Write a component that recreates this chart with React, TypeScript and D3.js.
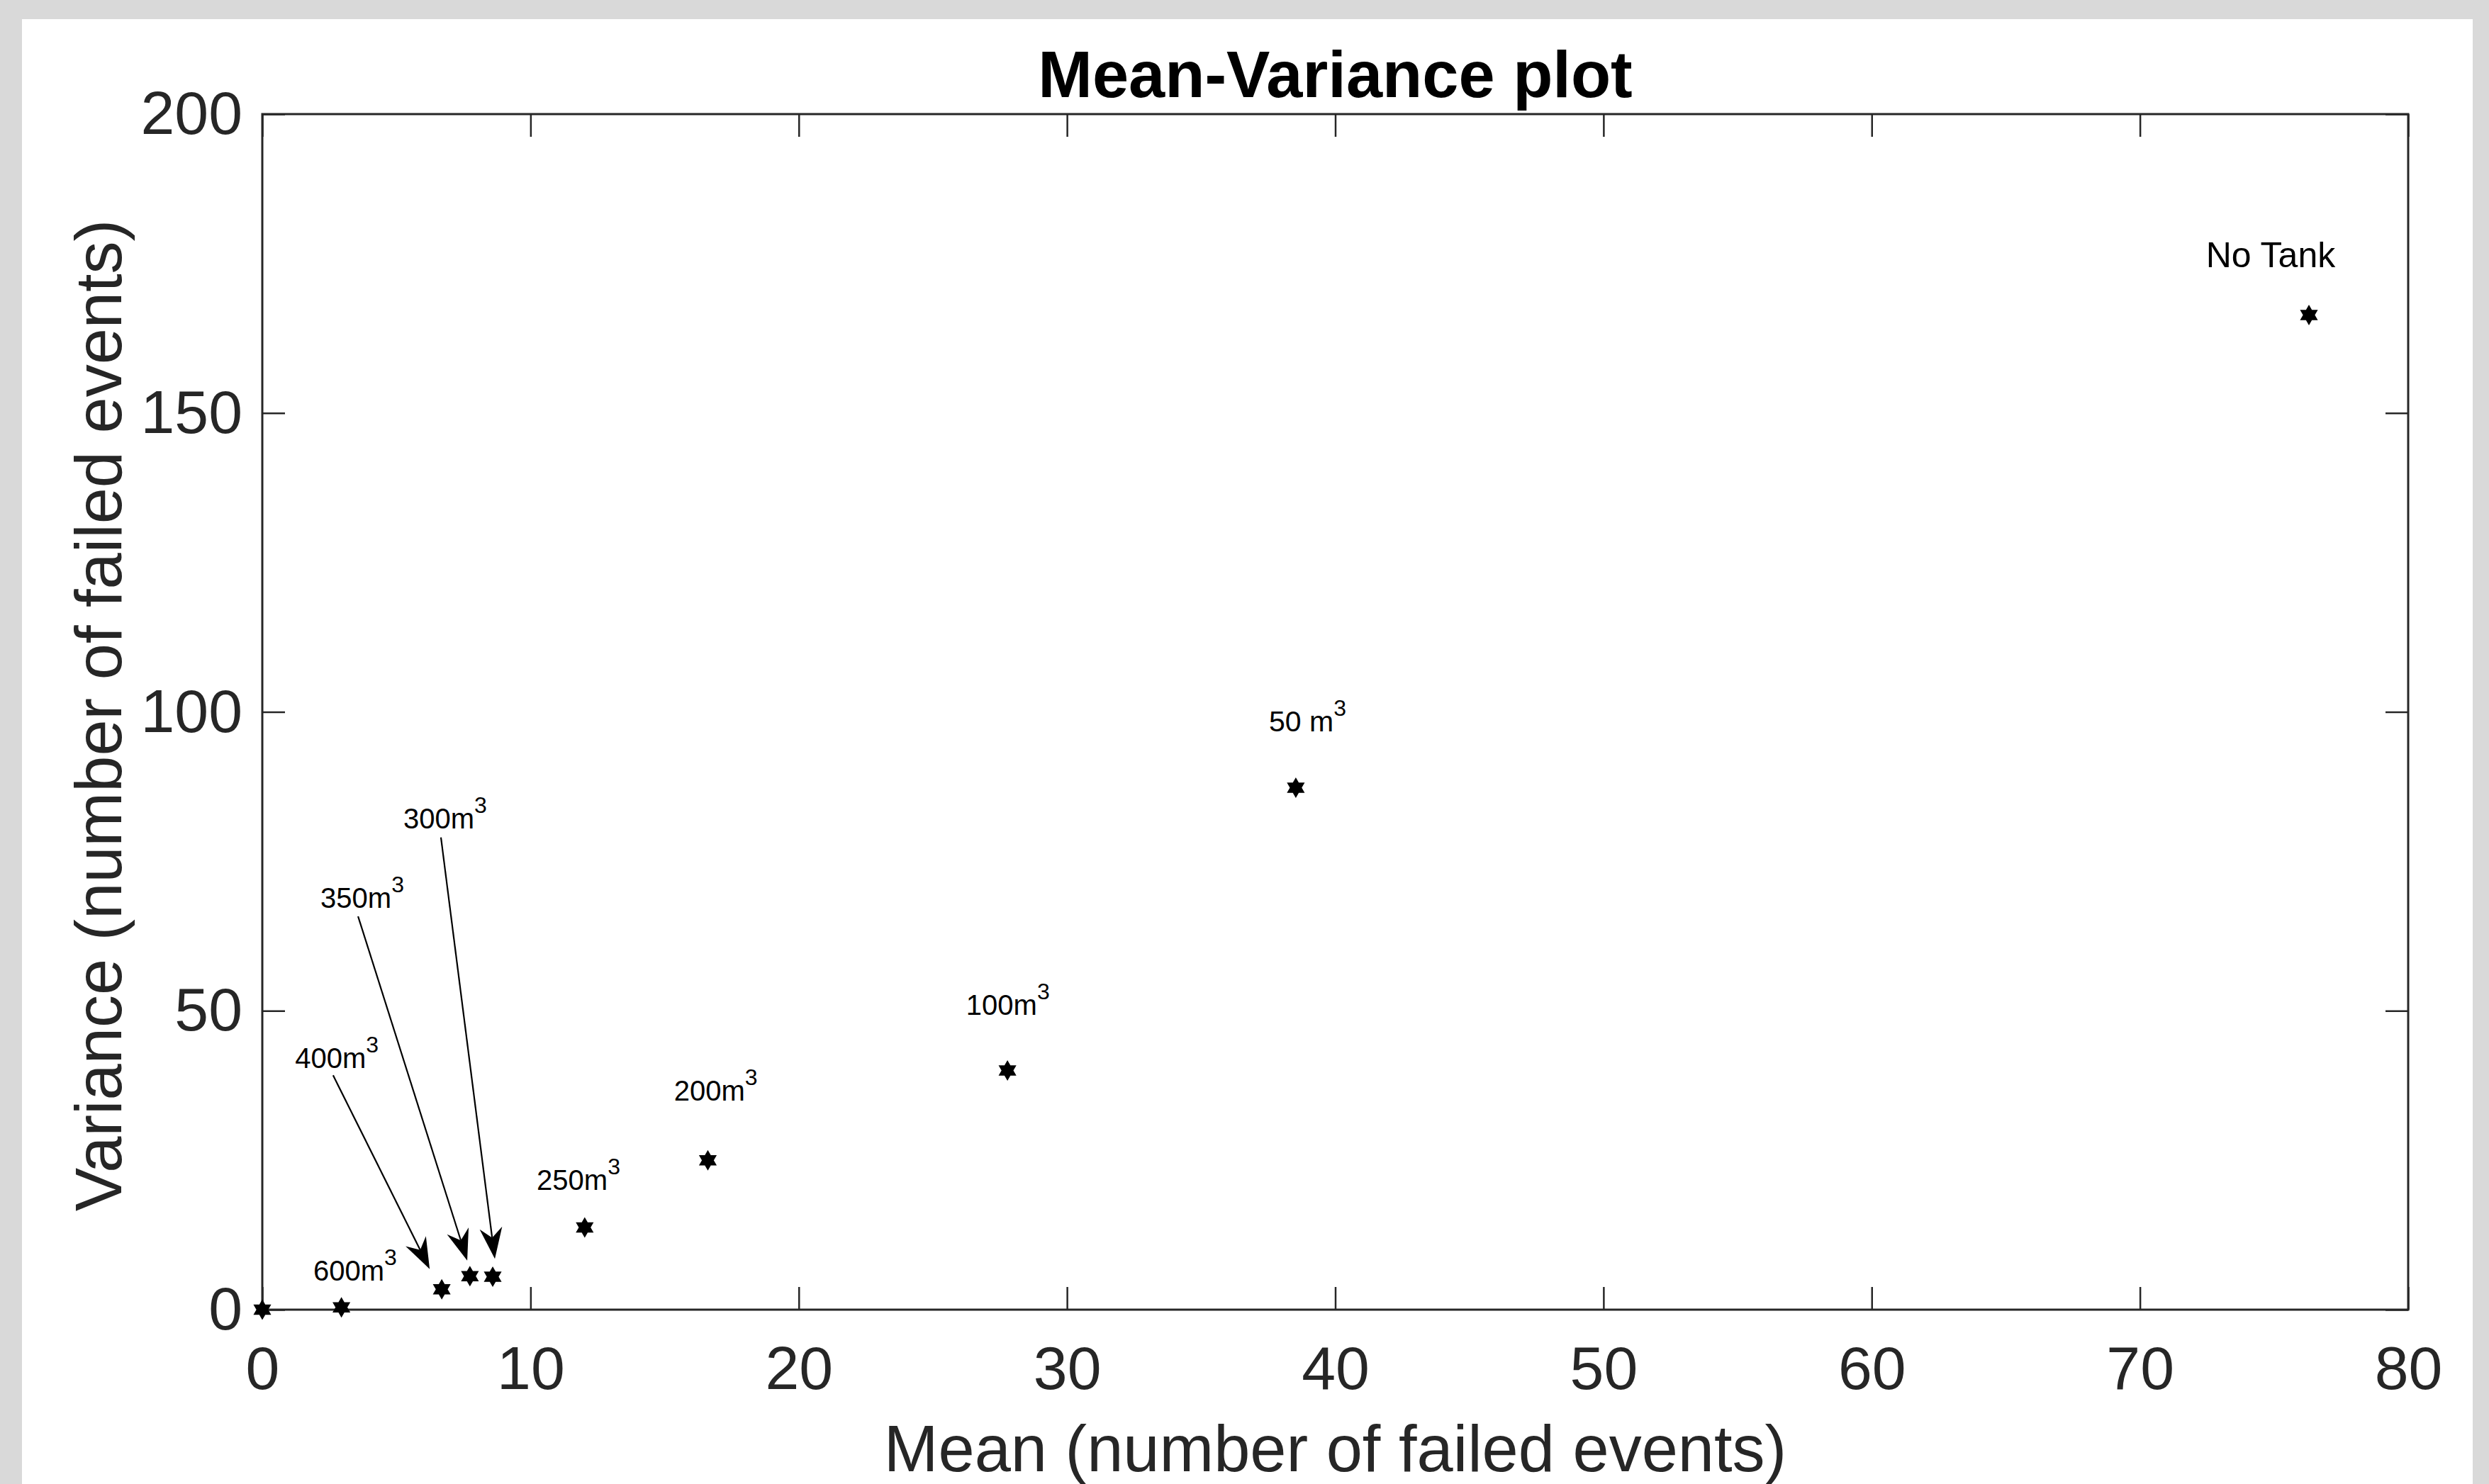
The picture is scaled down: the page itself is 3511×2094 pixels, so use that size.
import React, { useEffect, useRef } from 'react';
import * as d3 from 'd3';

const width = 3511;
const height = 2094;
const plot = { left: 370, right: 3397, top: 161, bottom: 1848 };
const font = '"Liberation Sans", Arial, Helvetica, sans-serif';
const axisColor = '#262626';

// scatter points (mean, variance)
const means = [0, 2.95, 6.69, 7.74, 8.59, 12.02, 16.61, 27.78, 38.53, 76.3];
const variances = [0, 0.4, 3.4, 5.6, 5.5, 13.75, 25.0, 40.0, 87.3, 166.4];

// text annotations, placed in data units (left / baseline)
const labelText = ['No Tank', '50 m', '100m', '200m', '250m', '300m', '350m', '400m', '600m'];
const labelSup = ['', '3', '3', '3', '3', '3', '3', '3', '3'];
const labelX = [72.46, 37.53, 26.24, 15.35, 10.23, 5.26, 2.17, 1.22, 1.9];
const labelY = [174.4, 96.7, 49.3, 35.0, 20.0, 80.5, 67.2, 40.4, 4.86];
const labelSize = [50, 41, 40, 40, 40, 40, 40, 40, 40];

// arrows from label to point
const arrowX0 = [6.66, 3.57, 2.64];
const arrowY0 = [79.0, 65.8, 39.2];
const arrowX1 = [8.67, 7.64, 6.24];
const arrowY1 = [8.5, 8.2, 6.8];

const xTicks = [0, 10, 20, 30, 40, 50, 60, 70, 80];
const yTicks = [0, 50, 100, 150, 200];

const x = d3.scaleLinear().domain([0, 80]).range([plot.left, plot.right]);
const y = d3.scaleLinear().domain([0, 200]).range([plot.bottom, plot.top]);

const hexagram = (r: number) => {
	const pts: [number, number][] = d3.range(12).map((i) => [i * Math.PI / 6, i % 2 === 0 ? r : r / Math.sqrt(3)]);
	return d3.lineRadial().curve(d3.curveLinearClosed)(pts) as string;
};
const starPath = hexagram(14.5);

// arrowhead with concave back, returns shaft end + head path
const arrow = (i: number) => {
	const x0 = x(arrowX0[i]);
	const y0 = y(arrowY0[i]);
	const x1 = x(arrowX1[i]);
	const y1 = y(arrowY1[i]);
	const a = Math.atan2(y1 - y0, x1 - x0);
	const len = 44;
	const half = 16;
	const notch = 30;
	const ux = Math.cos(a);
	const uy = Math.sin(a);
	const px = -uy;
	const py = ux;
	const bx = x1 - ux * len;
	const by = y1 - uy * len;
	const nx = x1 - ux * notch;
	const ny = y1 - uy * notch;
	const p = d3.path();
	p.moveTo(x1, y1);
	p.lineTo(bx + px * half, by + py * half);
	p.lineTo(nx, ny);
	p.lineTo(bx - px * half, by - py * half);
	p.closePath();
	return { x0, y0, nx, ny, head: p.toString() };
};

export default function App() {
	const xAxisRef = useRef<SVGGElement>(null);
	const xTopRef = useRef<SVGGElement>(null);
	const yAxisRef = useRef<SVGGElement>(null);
	const yRightRef = useRef<SVGGElement>(null);

	useEffect(() => {
		const style = (g: d3.Selection<SVGGElement, unknown, null, undefined>) => {
			g.select('.domain').remove();
			g.selectAll('line').attr('stroke', axisColor).attr('stroke-width', 2.5);
			g.selectAll('text').attr('fill', axisColor).attr('font-size', 86).attr('font-family', font);
		};
		d3.select(xAxisRef.current!)
			.call(d3.axisBottom(x).tickValues(xTicks).tickSizeInner(-32).tickSizeOuter(0).tickPadding(51))
			.call(style);
		d3.select(xTopRef.current!)
			.call(d3.axisTop(x).tickValues(xTicks).tickSizeInner(-32).tickSizeOuter(0).tickFormat(() => ''))
			.call(style);
		d3.select(yAxisRef.current!)
			.call(d3.axisLeft(y).tickValues(yTicks).tickSizeInner(-32).tickSizeOuter(0).tickPadding(28))
			.call(style);
		d3.select(yRightRef.current!)
			.call(d3.axisRight(y).tickValues(yTicks).tickSizeInner(-32).tickSizeOuter(0).tickFormat(() => ''))
			.call(style);
	}, []);

	return (
		<div style={{ position: 'absolute', left: 0, top: 0 }}>
			<svg width={width} height={height} viewBox={`0 0 ${width} ${height}`} style={{ display: 'block' }}>
				<rect x={0} y={0} width={width} height={height} fill="#d9d9d9" />
				<rect x={31} y={27} width={3488 - 31} height={height - 27} fill="#ffffff" />

				<g ref={xAxisRef} transform={`translate(0, ${plot.bottom})`} />
				<g ref={xTopRef} transform={`translate(0, ${plot.top})`} />
				<g ref={yAxisRef} transform={`translate(${plot.left}, 0)`} />
				<g ref={yRightRef} transform={`translate(${plot.right}, 0)`} />
				<rect
					x={plot.left}
					y={plot.top}
					width={plot.right - plot.left}
					height={plot.bottom - plot.top}
					fill="none"
					stroke={axisColor}
					strokeWidth={3}
				/>

				{/* arrows */}
				{arrowX0.map((_, i) => {
					const a = arrow(i);
					return (
						<g key={`arrow-${i}`}>
							<line x1={a.x0} y1={a.y0} x2={a.nx} y2={a.ny} stroke="#000" strokeWidth={2.2} />
							<path d={a.head} fill="#000" />
						</g>
					);
				})}

				{/* points */}
				{means.map((m, i) => (
					<path key={`pt-${i}`} d={starPath} transform={`translate(${x(m)}, ${y(variances[i])})`} fill="#000" />
				))}

				{/* annotations */}
				{labelText.map((t, i) => (
					<text
						key={`lbl-${i}`}
						x={x(labelX[i])}
						y={y(labelY[i])}
						fontFamily={font}
						fontSize={labelSize[i]}
						fill="#000"
					>
						{t}
						{labelSup[i] && (
							<tspan fontSize={32} dy={-22}>
								{labelSup[i]}
							</tspan>
						)}
					</text>
				))}

				<text
					x={(plot.left + plot.right) / 2}
					y={137}
					textAnchor="middle"
					fontFamily={font}
					fontWeight="bold"
					fontSize={92}
					fill="#000"
				>
					Mean-Variance plot
				</text>
				<text
					x={(plot.left + plot.right) / 2}
					y={2076}
					textAnchor="middle"
					fontFamily={font}
					fontSize={92}
					fill={axisColor}
				>
					Mean (number of failed events)
				</text>
				<text
					transform={`translate(171, ${(plot.top + plot.bottom) / 2 + 5}) rotate(-90)`}
					textAnchor="middle"
					fontFamily={font}
					fontSize={92}
					fill={axisColor}
				>
					Variance (number of failed events)
				</text>
			</svg>
		</div>
	);
}
